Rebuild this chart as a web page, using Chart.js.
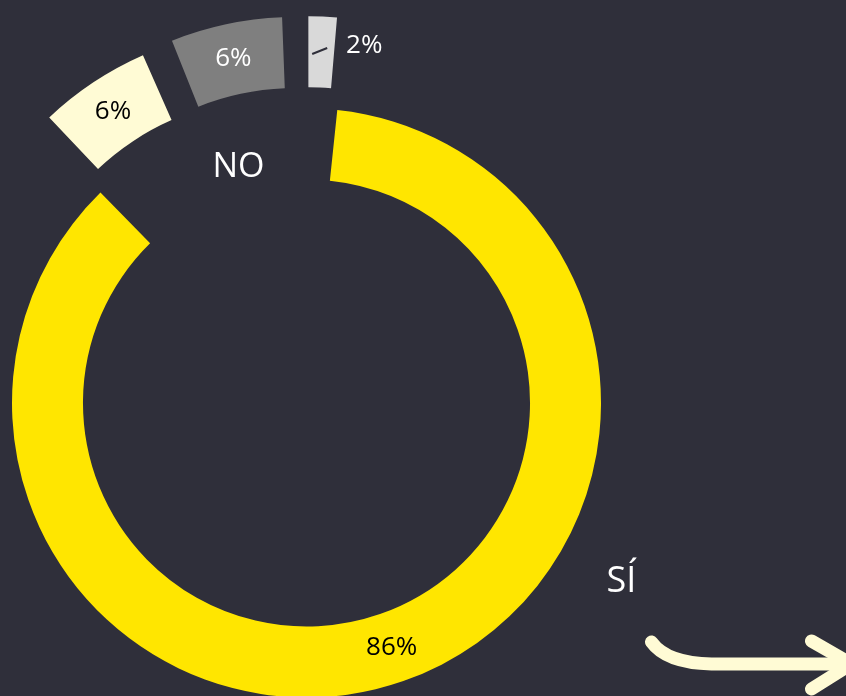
<!DOCTYPE html>
<html lang="es">
<head>
    <meta charset="UTF-8">
    <title>¿Sí o no?</title>
    <script src="https://cdn.jsdelivr.net/npm/chart.js"></script>
    <style>
        html, body {
            margin: 0;
            padding: 0;
            background-color: #2f2f3a;
        }
        .wrap {
            width: 846px;
            height: 696px;
            position: relative;
        }
    </style>
</head>
<body>
    <div class="wrap">
        <canvas id="pie"></canvas>
    </div>

    <script>
        const categories = ['SÍ', 'NO', 'NO', 'NO'];
        const values = [86, 6, 6, 2];
        const labels = ['86%', '6%', '6%', '2%'];
        const groupLabels = ['SÍ', 'NO'];

        const colors = ['#ffe600', '#fffbd5', '#7f7f7f', '#d9d9d9'];
        const labelColors = ['#000000', '#000000', '#ffffff', '#ffffff'];
        // the "no" slices are pulled out of the ring
        const offsets = [0, 222, 227, 197];

        const FONT = '"Open Sans", "Noto Sans", sans-serif';

        // where a pulled-out arc really sits (same maths as ArcElement.draw)
        function arcMiddle(arc) {
            const p = arc.getProps(['x', 'y', 'startAngle', 'endAngle', 'innerRadius', 'outerRadius']);
            const off = (arc.options.offset || 0) / 4;
            const circ = p.endAngle - p.startAngle;
            const fix = 1 - Math.sin(Math.min(Math.PI, circ));
            const mid = (p.startAngle + p.endAngle) / 2;
            const r = off + off * fix + (p.innerRadius + p.outerRadius) / 2;
            return { x: p.x + Math.cos(mid) * r, y: p.y + Math.sin(mid) * r, angle: mid };
        }

        const sliceLabels = {
            id: 'sliceLabels',
            afterDatasetsDraw(chart) {
                const ctx = chart.ctx;
                const arcs = chart.getDatasetMeta(0).data;
                ctx.save();
                ctx.textAlign = 'center';
                ctx.textBaseline = 'middle';
                arcs.forEach((arc, i) => {
                    const m = arcMiddle(arc);
                    if (values[i] < 4) {
                        // small slice: label outside with a short leader
                        ctx.strokeStyle = '#2f2f3a';
                        ctx.lineWidth = 2;
                        ctx.beginPath();
                        ctx.moveTo(m.x - 9, m.y + 2);
                        ctx.lineTo(m.x + 6, m.y - 4);
                        ctx.stroke();
                        ctx.fillStyle = labelColors[i];
                        ctx.font = '26px ' + FONT;
                        ctx.fillText(labels[i], m.x + 43, m.y - 6);
                    } else {
                        ctx.fillStyle = labelColors[i];
                        ctx.font = '26px ' + FONT;
                        ctx.fillText(labels[i], m.x, m.y);
                    }
                });

                // group names
                const c = arcs[0].getProps(['x', 'y']);
                ctx.fillStyle = '#ffffff';
                ctx.font = '34px ' + FONT;
                ctx.fillText(groupLabels[1], c.x - 68, c.y - 236);
                ctx.font = '36px ' + FONT;
                ctx.fillText(groupLabels[0], c.x + 315, c.y + 179);

                // hand-drawn arrow
                ctx.strokeStyle = '#fffbd5';
                ctx.lineWidth = 13;
                ctx.lineCap = 'round';
                ctx.lineJoin = 'round';
                const ax = c.x + 345, ay = c.y + 239;
                ctx.beginPath();
                ctx.moveTo(ax, ay);
                ctx.quadraticCurveTo(ax + 15, ay + 21, ax + 60, ay + 22);
                ctx.lineTo(ax + 200, ay + 22);
                ctx.stroke();
                ctx.beginPath();
                ctx.moveTo(ax + 160, ay - 1);
                ctx.lineTo(ax + 200, ay + 22);
                ctx.lineTo(ax + 160, ay + 47);
                ctx.stroke();
                ctx.restore();
            }
        };

        const ctx = document.getElementById('pie').getContext('2d');
        new Chart(ctx, {
            type: 'doughnut',
            data: {
                labels: categories,
                datasets: [{
                    data: values,
                    backgroundColor: colors,
                    borderWidth: 0,
                    offset: offsets,
                    hoverOffset: 0
                }]
            },
            options: {
                responsive: true,
                maintainAspectRatio: false,
                animation: false,
                events: [],
                rotation: 6,
                radius: 294.5,
                cutout: '75.9%',
                layout: { padding: { left: 0, right: 233, top: 110, bottom: 0 } },
                plugins: {
                    legend: { display: false },
                    tooltip: { enabled: false }
                }
            },
            plugins: [sliceLabels]
        });
    </script>
</body>
</html>
